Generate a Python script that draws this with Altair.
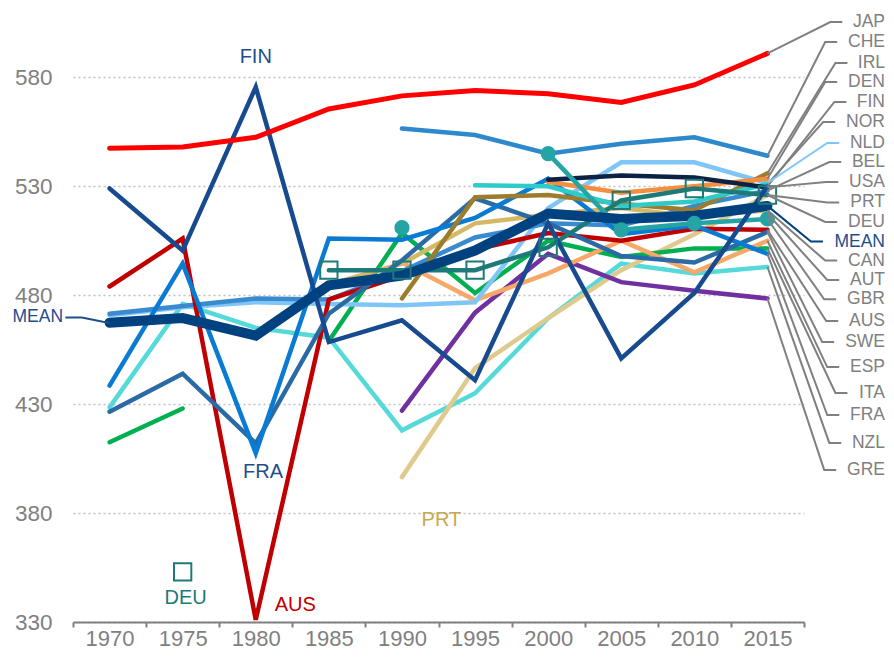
import altair as alt
import pandas as pd

years = [1970, 1975, 1980, 1985, 1990, 1995, 2000, 2005, 2010, 2015]
N = None

JAP = [547.5, 548, 552.5, 565.5, 571.5, 574, 572.5, 568.5, 576.5, 591]
CHE = [N, N, N, N, 556.5, 553.5, 545, 549.5, 552.5, 544]
IRL = [N, N, N, N, 478.5, 525, 526, 522, 519, 536]
DEN = [N, N, N, N, N, N, 532, 527, 530, 533.5]
FIN = [529, 500.5, 575.5, 458.5, 468.5, 441, 513, 451, 481, 530]
NOR = [N, N, N, N, N, 530.5, 530, 521, 523, 531]
NLD = [470.8, 474.5, 476.8, 476, 475.4, 476.8, 520, 541, 541, 531.5]
BEL = [471.5, 475, 478.5, 478, 491, 506.5, 513, 512, 521, 528]
USA = [N, N, N, N, N, N, 533, 535, 534, 529.5]
PRT = [N, N, N, N, 396.5, 446.5, 469.5, 491.5, 508, 526]
DEU = [N, 353, N, 491.5, 491.5, 491.5, 502, 523.5, 529, 526]
MEAN = [467.4, 469.5, 461.5, 484.5, 489, 500.5, 517.5, 515, 516.5, 521]
CAN = [N, N, N, 485, 494.5, 513, 517, 520, 516, 519]
GBR = [N, N, N, N, 511, N, 545, 510, 513, 515]
AUS = [484, 506, 331, 478, 489, 501, 508.5, 505, 510.5, 510]
SWE = [426.5, 444, 412, 471.5, 496, 524.5, 513, 498, 495, 509]
ESP = [N, N, N, N, 495, 477.7, 490, 505, 490.5, 505]
ITA = [412.5, 428, N, 459, 508.5, 481, 505, 497.5, 501.5, 501.5]
FRA = [438.5, 494.5, 407.5, 506, 505.5, 515.5, 533.5, 508, 512, 499]
NZL = [428.5, 476, 465, 460.5, 418, 435, 469.5, 494.5, 490, 493]
GRE = [N, N, N, N, 427, 472, 499, 486, 482, 478.5]

series = {
    "JAP": JAP, "CHE": CHE, "IRL": IRL, "DEN": DEN, "FIN": FIN, "NOR": NOR,
    "NLD": NLD, "BEL": BEL, "USA": USA, "PRT": PRT, "DEU": DEU, "MEAN": MEAN,
    "CAN": CAN, "GBR": GBR, "AUS": AUS, "SWE": SWE, "ESP": ESP,
    "ITA": ITA, "FRA": FRA, "NZL": NZL, "GRE": GRE,
}
# right-hand label order and their vertical positions (in score units)
label_order = ["JAP", "CHE", "IRL", "DEN", "FIN", "NOR", "NLD", "BEL", "USA", "PRT",
               "DEU", "MEAN", "CAN", "AUT", "GBR", "AUS", "SWE", "ESP", "ITA",
               "FRA", "NZL", "GRE"]
label_pos = [605.4, 596.2, 586.6, 577.9, 568.7, 559.5, 549.9, 541.1, 532.0, 522.6,
             513.6, 504.6, 495.9, 487.0, 478.1, 468.2, 458.5, 447.0, 435.1,
             425.0, 412.2, 399.8]

# styles
colors = {
    "JAP": "#ff0000", "CHE": "#2e88cc", "IRL": "#9b7d2d", "DEN": "#f38f3f",
    "FIN": "#174a8f", "NOR": "#2fcbcb", "NLD": "#7fc6f7", "BEL": "#3a8ad0",
    "USA": "#0c2244", "PRT": "#dfca8e", "DEU": "#1d7a78", "MEAN": "#00427f",
    "CAN": "#d5b866", "GBR": "#24a4a4", "AUS": "#c00000", "SWE": "#2a6aa5",
    "ESP": "#f7a868", "ITA": "#00b050", "FRA": "#0a7bd2", "NZL": "#56d9d9",
    "GRE": "#7030a0",
}
draw_order = ["NZL", "PRT", "GRE", "ITA", "ESP", "NLD", "BEL", "CAN", "AUS", "SWE",
              "FRA", "IRL", "NOR", "DEN", "USA", "CHE", "DEU", "GBR", "FIN", "JAP", "MEAN"]

rows = []
for name, vals in series.items():
    seg = 0
    prev = False
    for y, v in zip(years, vals):
        if v is None:
            if prev:
                seg += 1
            prev = False
            continue
        rows.append({"country": name, "year": y, "value": v, "seg": f"{name}{seg}"})
        prev = True
df = pd.DataFrame(rows)
seg_len = df.groupby("seg")["year"].transform("count")
line_df = df[seg_len > 1]

# text widths (Arial metrics) for leader ends
CW = {"A": .667, "B": .667, "C": .722, "D": .722, "E": .667, "F": .611, "G": .778,
      "H": .722, "I": .278, "J": .5, "K": .667, "L": .556, "M": .833, "N": .722,
      "O": .778, "P": .667, "R": .722, "S": .667, "T": .611, "U": .722, "W": .944,
      "Z": .611}
LFS = 17.5
PX_PER_YEAR = 731 / 50.0
TEXT_RIGHT = 2017.5 + 81 / PX_PER_YEAR


def end_value(name):
    vals = series.get(name)
    if vals is None:
        return 517.5
    return vals[-1]


lead_rows = []
lab_rows = []
for name, lp in zip(label_order, label_pos):
    w = sum(CW.get(c, .6) for c in name) * LFS * 1.05
    hend = TEXT_RIGHT - (w + 9) / PX_PER_YEAR
    elbow = hend - 12 / PX_PER_YEAR
    ev = end_value(name)
    lab_rows.append({"label": name, "year": TEXT_RIGHT, "value": lp,
                     "kind": "mean" if name == "MEAN" else "other"})
    kind = "mean" if name == "MEAN" else ("nld" if name == "NLD" else "other")
    for i, (x, y) in enumerate([(2015, ev), (elbow, lp), (hend, lp)]):
        lead_rows.append({"label": name, "year": x, "value": y, "o": i, "kind": kind})
lead_df = pd.DataFrame(lead_rows)
lab_df = pd.DataFrame(lab_rows)

# left MEAN label
left_lead = pd.DataFrame({"year": [1966.98, 1968.1, 1969.55, 1970],
                          "value": [469.8, 469.8, 467.8, 467.4], "o": [0, 1, 2, 3]})
left_lab = pd.DataFrame({"year": [1966.82], "value": [469.8], "label": ["MEAN"]})

# in-chart annotations
ann = pd.DataFrame({
    "label": ["FIN", "FRA", "AUS", "DEU", "PRT"],
    "year": [1980.0, 1980.5, 1982.7, 1975.2, 1992.7],
    "value": [589.3, 398.9, 337.8, 341.0, 376.8],
    "color": ["#1f4e8c", "#1f4e8c", "#c00000", "#1d7a78", "#c9a94e"],
})

xscale = alt.Scale(domain=[1967.5, 2017.5], nice=False, zero=False)
yscale = alt.Scale(domain=[330, 610], nice=False, zero=False)

X = alt.X("year:Q", scale=xscale, axis=alt.Axis(
    values=[1967.5 + 5 * i for i in range(11)],
    labelExpr="datum.value < 2017 ? toString(datum.value + 2.5) : ''",
    labelOffset=36.55, tickSize=5, tickColor="#808080", tickWidth=2,
    domainColor="#808080", domainWidth=2, grid=False, labelFontSize=22,
    labelColor="#808080", labelPadding=1, title=None, labelFlush=False,
    labelOverlap=False))
Y = alt.Y("value:Q", scale=yscale, axis=alt.Axis(
    values=[330, 380, 430, 480, 530, 580], grid=True, gridDash=[2, 3],
    gridColor="#c0c0c0", gridWidth=1.5, domain=False, ticks=False, tickSize=0,
    labelFontSize=22.5, labelColor="#808080", labelPadding=21, title=None))

base = alt.Chart(line_df)
pts = alt.Chart(df)
layers = []
for name in draw_order:
    sw = 10 if name == "MEAN" else (5 if name == "JAP" else 4.5)
    layers.append(base.transform_filter(alt.datum.country == name).mark_line(
        color=colors[name], strokeWidth=sw, strokeCap="round").encode(
        x=X, y=Y, detail="seg:N", order="year:Q"))

squares = pts.transform_filter(alt.datum.country == "DEU").mark_point(
    shape="square", filled=False, size=300, strokeWidth=2, color=colors["DEU"],
    opacity=1).encode(x=X, y=Y)
circles = pts.transform_filter(alt.datum.country == "GBR").mark_circle(
    size=230, color=colors["GBR"], opacity=1).encode(x=X, y=Y)

lead_color = alt.Color("kind:N", scale=alt.Scale(domain=["mean", "nld", "other"],
                       range=["#00427f", "#7fc6f7", "#808080"]), legend=None)
leaders = alt.Chart(lead_df).mark_line(strokeWidth=2).encode(
    x=alt.X("year:Q", scale=xscale), y=alt.Y("value:Q", scale=yscale),
    detail="label:N", order="o:Q", color=lead_color)
labels = alt.Chart(lab_df).mark_text(align="right", baseline="middle",
                                     fontSize=LFS).encode(
    x=alt.X("year:Q", scale=xscale), y=alt.Y("value:Q", scale=yscale),
    text="label:N",
    color=alt.Color("kind:N", scale=alt.Scale(domain=["mean", "other"],
                    range=["#1f4e8c", "#808080"]), legend=None))
lleader = alt.Chart(left_lead).mark_line(strokeWidth=2, color="#1f4e8c").encode(
    x=alt.X("year:Q", scale=xscale), y=alt.Y("value:Q", scale=yscale), order="o:Q")
llabel = alt.Chart(left_lab).mark_text(align="right", baseline="middle", fontSize=LFS,
                                       color="#1f4e8c").encode(
    x=alt.X("year:Q", scale=xscale), y=alt.Y("value:Q", scale=yscale), text="label:N")
annot = alt.Chart(ann).mark_text(align="center", baseline="middle", fontSize=20).encode(
    x=alt.X("year:Q", scale=xscale), y=alt.Y("value:Q", scale=yscale), text="label:N",
    color=alt.Color("color:N", scale=None))

chart = alt.layer(*layers, squares, circles, leaders, lleader, labels, llabel, annot
                  ).resolve_scale(color="independent").properties(
    width=731, height=610,
    autosize=alt.AutoSizeParams(type="none"),
    padding={"left": 65, "top": 4, "right": 82, "bottom": 31},
).configure(font="Liberation Sans").configure_view(stroke=None)

chart.save("out.html", embed_options={"renderer": "svg", "actions": False})
